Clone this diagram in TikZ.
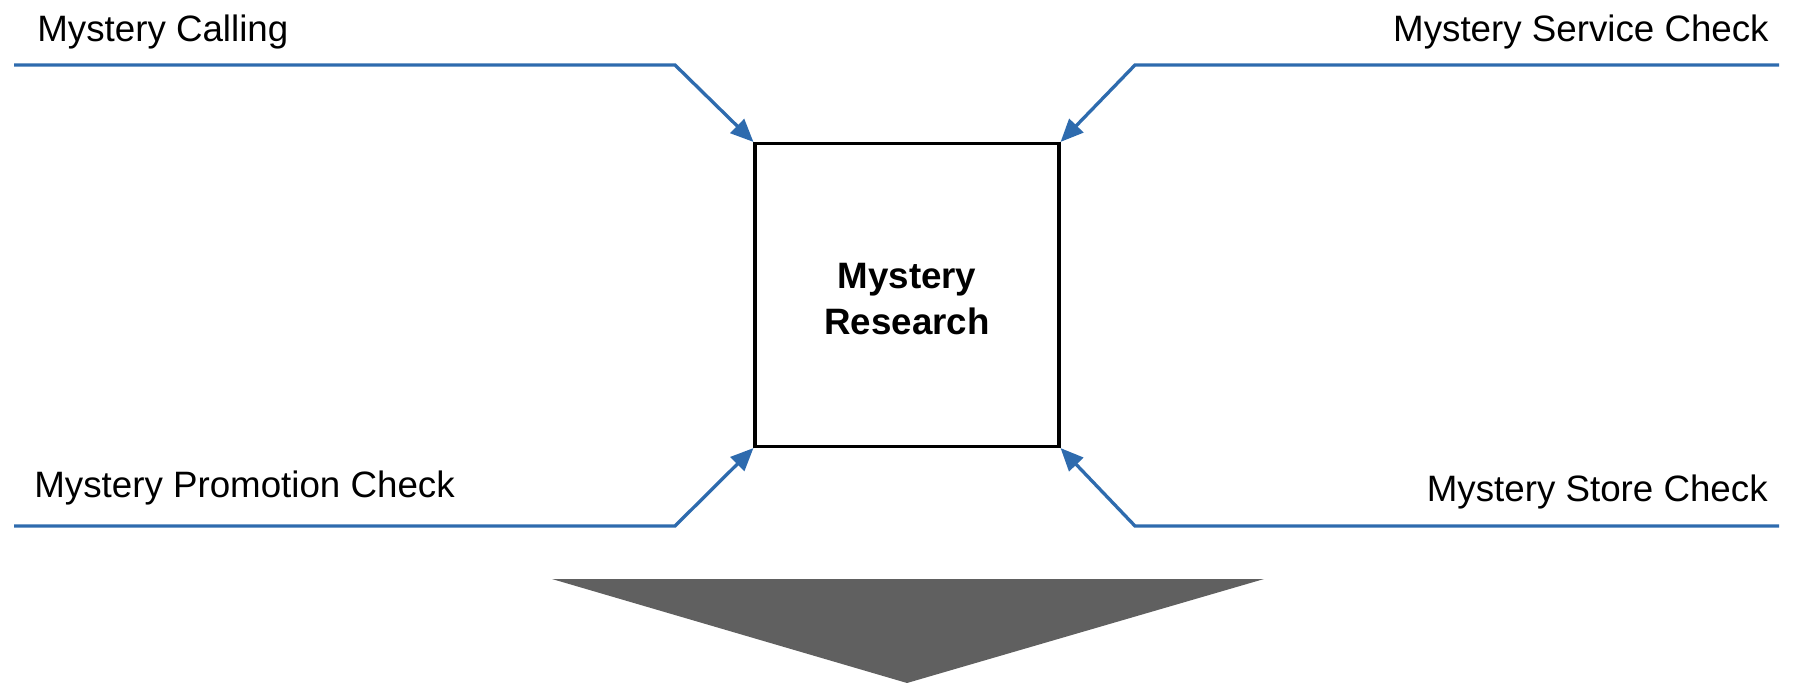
\documentclass[tikz,border=0pt]{standalone}
\usepackage{fontspec}
\setmainfont{Liberation Sans}
\usepackage{xcolor}
\usetikzlibrary{arrows.meta}
\definecolor{MRBlue}{HTML}{2E6BAE}
\definecolor{MRGrey}{HTML}{606060}

\begin{document}
\begin{tikzpicture}[x=0.02cm,y=-0.02cm]
\path[use as bounding box] (0,0) rectangle (1793,683);
\tikzset{feed/.style={draw=MRBlue,line width=1.9pt,-{Triangle[length=13pt,width=11pt]}},
  lbl/.style={font=\fontsize{20.9}{25}\selectfont,inner sep=0pt}}
\node[draw=black,line width=1.8pt,minimum width=6.08cm,minimum height=6.06cm,inner sep=0pt,
  align=center,font=\fontsize{20.9}{26}\selectfont\bfseries] (research) at (907,295) {};
\node[align=center,font=\fontsize{20.9}{26}\selectfont\bfseries,inner sep=0pt] (research-lbl) at (907,299) {Mystery\\Research};
\coordinate (calling) at (14,65);
\coordinate (calling-bend) at (675,65);
\coordinate (service) at (1779,65);
\coordinate (service-bend) at (1135,65);
\coordinate (promo) at (14,526);
\coordinate (promo-bend) at (675,526);
\coordinate (store) at (1779,526);
\coordinate (store-bend) at (1135,526);
\draw[feed] (calling) -- (calling-bend) -- (research.north west);
\draw[feed] (service) -- (service-bend) -- (research.north east);
\draw[feed] (promo) -- (promo-bend) -- (research.south west);
\draw[feed] (store) -- (store-bend) -- (research.south east);
\node[lbl,anchor=west] (calling-lbl) at (37,32) {Mystery Calling};
\node[lbl,anchor=east] (service-lbl) at (1769,32) {Mystery Service Check};
\node[lbl,anchor=west] (promo-lbl) at (34,488) {Mystery Promotion Check};
\node[lbl,anchor=east] (store-lbl) at (1768,492) {Mystery Store Check};
\fill[MRGrey] (552,579) -- (1264,579) -- (907,683) -- cycle;
\end{tikzpicture}
\end{document}
